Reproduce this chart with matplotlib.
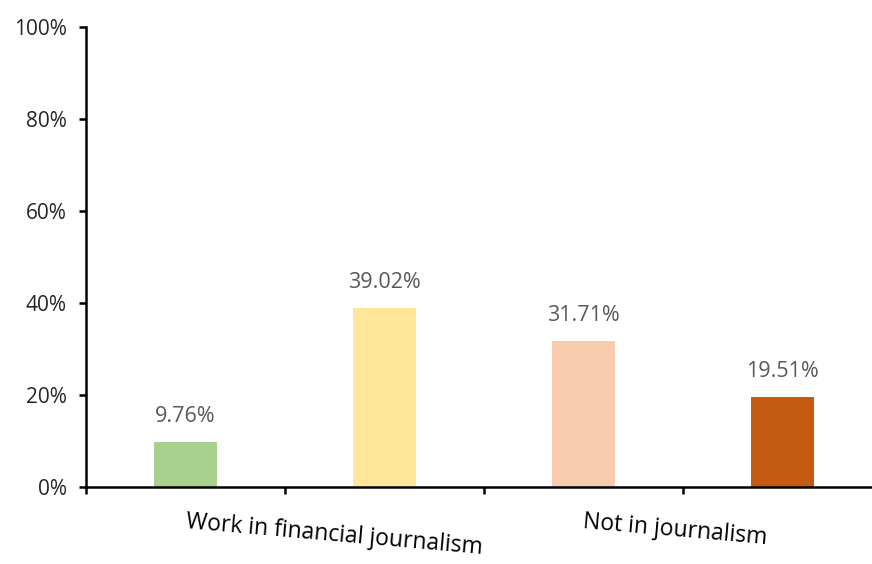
import matplotlib.pyplot as plt
from matplotlib.ticker import PercentFormatter

# bar values (percent) and colours, one bar per slot
values = [9.76, 39.02, 31.71, 19.51]
colors = ['#A9D18E', '#FFE699', '#F8CBAD', '#C55A11']
group_labels = ['Work in financial journalism', 'Not in journalism']

plt.rcParams['font.family'] = ['Open Sans', 'DejaVu Sans']

fig = plt.figure(figsize=(8.72, 5.64), dpi=100)
ax = fig.add_axes([86 / 872, 77 / 564, 796 / 872, 460 / 564])

x = list(range(len(values)))
ax.bar(x, values, width=0.32, color=colors)

for xi, v in zip(x, values):
    ax.annotate(f'{v:.2f}%', (xi, v), xytext=(0, 15), textcoords='offset pixels',
                ha='center', va='bottom', fontsize=15.5, color='#595959')

ax.set_xlim(-0.5, 3.5)
ax.set_ylim(0, 100)
ax.yaxis.set_major_formatter(PercentFormatter(decimals=0))
ax.set_yticks([0, 20, 40, 60, 80, 100])
ax.set_xticks([-0.5, 0.5, 1.5, 2.5, 3.5])
ax.set_xticklabels([])

for s in ['top', 'right']:
    ax.spines[s].set_visible(False)
for s in ['left', 'bottom']:
    ax.spines[s].set_linewidth(1.8)
ax.tick_params(axis='both', direction='out', length=5, width=1.8, labelsize=15,
               labelcolor='#262626')
ax.tick_params(axis='y', pad=9)

ax.text(0.75, -0.104, group_labels[0], transform=ax.get_xaxis_transform(),
        rotation=-5, ha='center', va='center', fontsize=16.5, color='#000000',
        rotation_mode='anchor')
ax.text(2.46, -0.093, group_labels[1], transform=ax.get_xaxis_transform(),
        rotation=-5, ha='center', va='center', fontsize=16.5, color='#000000',
        rotation_mode='anchor')

fig.savefig('out.png', dpi=100)
